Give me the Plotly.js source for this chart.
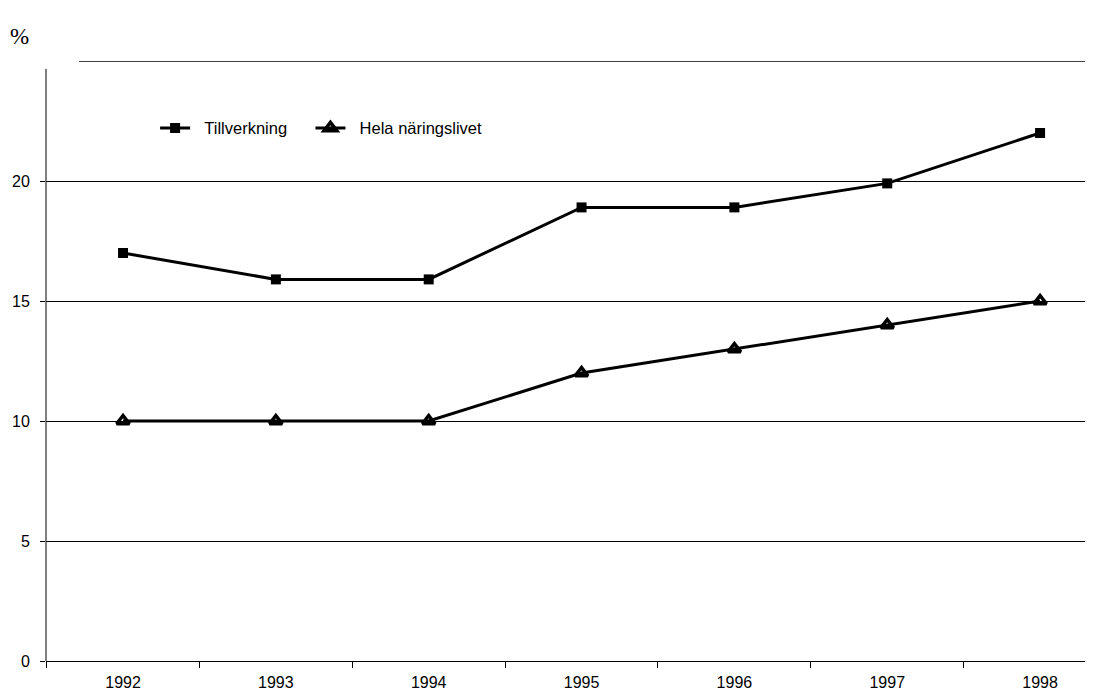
<!DOCTYPE html>
<html>
<head>
<meta charset="utf-8">
<script src="https://cdn.plot.ly/plotly-3.0.1.min.js"></script>
<style>html,body{margin:0;padding:0;background:#fff;}#chart{width:1103px;height:691px;}</style>
</head>
<body>
<div id="chart"></div>
<script>
const years = [1992, 1993, 1994, 1995, 1996, 1997, 1998];
const tillverkning = [17, 15.9, 15.9, 18.9, 18.9, 19.9, 22];
const helaNaringslivet = [10, 10, 10, 12, 13, 14, 15];
const yTicks = [0, 5, 10, 15, 20];
const seriesNames = ['Tillverkning', 'Hela näringslivet'];

const pad = '\u00a0\u00a0';
const gap = '\u00a0\u00a0\u00a0\u00a0';
const traces = [
  {
    x: years, y: tillverkning, name: pad + seriesNames[0] + gap, type: 'scatter', mode: 'lines+markers',
    line: {color: '#000', width: 3},
    marker: {symbol: 'square', size: 10, color: '#000'}
  },
  {
    x: years, y: helaNaringslivet, name: pad + seriesNames[1], type: 'scatter', mode: 'lines+markers',
    line: {color: '#000', width: 3},
    marker: {symbol: 'triangle-up-open', size: 11, color: '#000', line: {width: 3.5, color: '#000'}}
  }
];

const layout = {
  width: 1103, height: 691,
  margin: {l: 46, r: 18, t: 61, b: 30},
  paper_bgcolor: '#fff', plot_bgcolor: '#fff',
  font: {family: 'Liberation Sans, Arial, sans-serif', size: 16, color: '#000'},
  showlegend: true,
  legend: {
    orientation: 'h', x: 0.105, y: 0.888, xanchor: 'left', yanchor: 'middle',
    bgcolor: 'rgba(0,0,0,0)', font: {size: 16.5}, itemwidth: 30, tracegroupgap: 0
  },
  xaxis: {
    range: [1991.496, 1998.294],
    tickvals: years, ticktext: years.map(String),
    ticks: '', showgrid: false, zeroline: false,
    showline: true, linecolor: '#000', linewidth: 1,
    tickfont: {size: 16}, ticklabelstandoff: 7,
    minor: {tick0: 1991.5, dtick: 1, ticks: 'outside', ticklen: 6, tickcolor: '#000', tickwidth: 1, showgrid: false}
  },
  yaxis: {
    range: [0, 25], tickvals: yTicks,
    ticks: 'outside', ticklen: 5, tickcolor: '#000',
    showgrid: true, gridcolor: '#000', gridwidth: 1,
    zeroline: false, showline: false,
    tickfont: {size: 16}, ticklabelstandoff: 7
  },
  shapes: [
    {type: 'line', xref: 'paper', yref: 'y', x0: 0.0318, x1: 1, y0: 25, y1: 25, line: {color: '#000', width: 1.5}},
    {type: 'line', xref: 'paper', yref: 'y', x0: 0, x1: 0, y0: 0, y1: 24.67, line: {color: '#000', width: 1}}
  ],
  annotations: [
    {text: '%', xref: 'paper', yref: 'paper', x: -0.037, y: 1.04, xanchor: 'left', yanchor: 'middle',
     showarrow: false, font: {family: 'Liberation Serif, Times New Roman, serif', size: 23, color: '#000'}}
  ]
};

Plotly.newPlot('chart', traces, layout, {displayModeBar: false, staticPlot: true});
</script>
</body>
</html>
